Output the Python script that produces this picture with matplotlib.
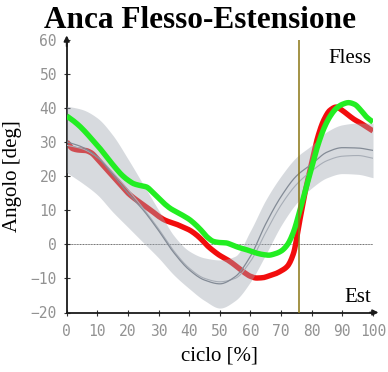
import numpy as np
import matplotlib
matplotlib.use("Agg")
import matplotlib.pyplot as plt

# Gait cycle sampling for the two measured trials (percent of cycle)
cycle = np.arange(0, 101, 2)

# Hip flexion-extension angle [deg], left (green) and right (red)
green_angle = [37.6, 36.3, 34.8, 33.0, 31.0, 29.0, 26.8, 24.5, 22.3, 20.3,
               18.8, 17.7, 17.2, 16.8, 15.3, 13.5, 11.8, 10.4, 9.4, 8.4,
               7.3, 5.8, 4.0, 2.0, 0.8, 0.5, 0.4, -0.2, -0.9, -1.4,
               -2.0, -2.6, -3.0, -3.2, -2.8, -2.0, -0.2, 3.5, 9.5, 16.0,
               22.5, 29.0, 34.0, 37.5, 39.8, 41.0, 41.5, 41.0, 39.3, 37.2,
               35.8]
red_angle = [30.0, 28.0, 27.6, 27.5, 26.8, 25.0, 23.0, 21.0, 19.0, 17.0,
             15.0, 13.5, 12.2, 10.9, 9.6, 8.2, 7.1, 6.4, 5.8, 5.0,
             4.2, 3.0, 1.4, -0.5, -2.0, -3.3, -4.3, -5.5, -6.9, -8.3,
             -9.4, -9.9, -9.8, -9.3, -8.7, -7.8, -6.5, -2.8, 6.5, 16.0,
             23.8, 31.5, 36.5, 39.3, 40.2, 39.2, 37.8, 36.5, 35.5, 34.3,
             33.2]

# Normative reference corridor (sampled every 5 %)
norm_cycle = np.arange(0, 101, 5)
norm_mean = [30.0, 28.5, 25.5, 20.5, 15.0, 10.0, 4.0, -2.5, -7.5, -10.5,
             -11.6, -9.5, -3.5, 6.0, 14.0, 20.0, 23.5, 27.0, 28.3, 28.2, 27.5]
norm_mean2 = [29.0, 28.0, 25.5, 21.0, 16.0, 10.5, 4.5, -2.0, -7.0, -10.0,
              -11.0, -10.0, -5.0, 3.5, 11.5, 17.5, 21.5, 24.5, 25.8, 26.0, 25.2]
norm_upper = [40.5, 39.5, 37.0, 32.0, 25.0, 17.5, 10.0, 2.5, -2.0, -4.0,
              -4.6, -3.5, 4.0, 13.0, 20.0, 25.5, 29.0, 33.0, 35.0, 35.5, 35.5]
norm_lower = [21.0, 18.0, 14.5, 9.5, 5.0, 0.5, -4.0, -9.0, -13.0, -16.5,
              -18.7, -16.5, -11.0, -3.0, 5.5, 12.0, 16.5, 19.5, 20.7, 20.5, 19.5]

toe_off = 76
x_ticks = [0, 10, 20, 30, 40, 50, 60, 70, 80, 90, 100]
y_ticks = [-20, -10, 0, 10, 20, 30, 40, 50, 60]


def smooth(x, y, n=400):
    """Monotone cubic Hermite curve through the given samples."""
    x = np.asarray(x, float)
    y = np.asarray(y, float)
    h = np.diff(x)
    d = np.diff(y) / h
    m = np.zeros_like(y)
    m[0], m[-1] = d[0], d[-1]
    for i in range(1, len(y) - 1):
        if d[i - 1] * d[i] > 0:
            w1 = 2 * h[i] + h[i - 1]
            w2 = h[i] + 2 * h[i - 1]
            m[i] = (w1 + w2) / (w1 / d[i - 1] + w2 / d[i])
    xs = np.linspace(x[0], x[-1], n)
    k = np.clip(np.searchsorted(x, xs) - 1, 0, len(x) - 2)
    t = (xs - x[k]) / h[k]
    h00 = 2 * t**3 - 3 * t**2 + 1
    h10 = t**3 - 2 * t**2 + t
    h01 = -2 * t**3 + 3 * t**2
    h11 = t**3 - t**2
    ys = h00 * y[k] + h10 * h[k] * m[k] + h01 * y[k + 1] + h11 * h[k] * m[k + 1]
    return xs, ys


W, H = 388, 372
fig = plt.figure(figsize=(W / 100, H / 100), dpi=100)
ax = fig.add_axes([66.7 / W, 1 - 312.5 / H, (373 - 66.7) / W, (312.5 - 39.5) / H])
ax.set_xlim(0, 100)
ax.set_ylim(-20, 60)

# Right side trial sits under the corridor
rx, ry = smooth(cycle, red_angle)
ax.plot(rx, ry, color="#f20d0d", lw=3.9, solid_capstyle="butt", zorder=2)

# Normative corridor
bx, bu = smooth(norm_cycle, norm_upper)
_, bl = smooth(norm_cycle, norm_lower)
ax.fill_between(bx, bl, bu, color="#a0a8b2", alpha=0.42, lw=0, zorder=3)
mx, my = smooth(norm_cycle, norm_mean)
m2x, m2y = smooth(norm_cycle, norm_mean2)
ax.plot(m2x, m2y, color="#a7adb6", lw=0.8, zorder=4)
ax.plot(mx, my, color="#838b96", lw=0.9, zorder=4)

# Zero reference and toe-off marker
ax.axhline(0, color="#6a6a6a", lw=0.7, ls=(0, (1, 0.6)), zorder=1)
ax.axvline(toe_off, color="#8a7514", lw=1.1, zorder=6)

gx, gy = smooth(cycle, green_angle)
ax.plot(gx, gy, color="#22ee22", lw=3.9, solid_capstyle="butt", zorder=5)

# Axes with arrow heads
for s in ("top", "right"):
    ax.spines[s].set_visible(False)
for s in ("left", "bottom"):
    ax.spines[s].set_color("#1a1a1a")
    ax.spines[s].set_linewidth(1.3)
ax.annotate("", xy=(101.8, -20), xytext=(99, -20),
            arrowprops=dict(arrowstyle="-|>", color="#1a1a1a", lw=1.3,
                            mutation_scale=8, shrinkA=0, shrinkB=0),
            annotation_clip=False, zorder=7)
ax.annotate("", xy=(0, 61.2), xytext=(0, 58),
            arrowprops=dict(arrowstyle="-|>", color="#1a1a1a", lw=1.3,
                            mutation_scale=8, shrinkA=0, shrinkB=0),
            annotation_clip=False, zorder=7)

ax.set_xticks(x_ticks)
ax.set_yticks(y_ticks)
ax.set_xticklabels([str(v) for v in x_ticks])
ax.set_yticklabels(["\u221220" if v == -20 else ("\u221210" if v == -10 else str(v)) for v in y_ticks])
ax.tick_params(axis="both", direction="inout", length=4, width=0.8, color="#333333",
               labelsize=10.5, labelcolor="#929292")
ax.tick_params(axis="x", pad=6)
ax.tick_params(axis="y", pad=5)
for lab in ax.get_xticklabels() + ax.get_yticklabels():
    lab.set_fontfamily("DejaVu Sans Mono")

serif = "Liberation Serif"
ax.set_xlabel("ciclo [%]", fontfamily=serif, fontsize=15, labelpad=6)
ax.set_ylabel("Angolo [deg]", fontfamily=serif, fontsize=15, labelpad=6)
fig.text(200 / W, 1 - 20 / H, "Anca Flesso-Estensione", fontfamily=serif,
         fontweight="bold", fontsize=22.5, ha="center", va="center")
ax.text(99.5, 54.5, "Fless", fontfamily=serif, fontsize=15, ha="right", va="center")
ax.text(99.5, -15.5, "Est", fontfamily=serif, fontsize=15, ha="right", va="center")

fig.savefig("out.png", dpi=100)
